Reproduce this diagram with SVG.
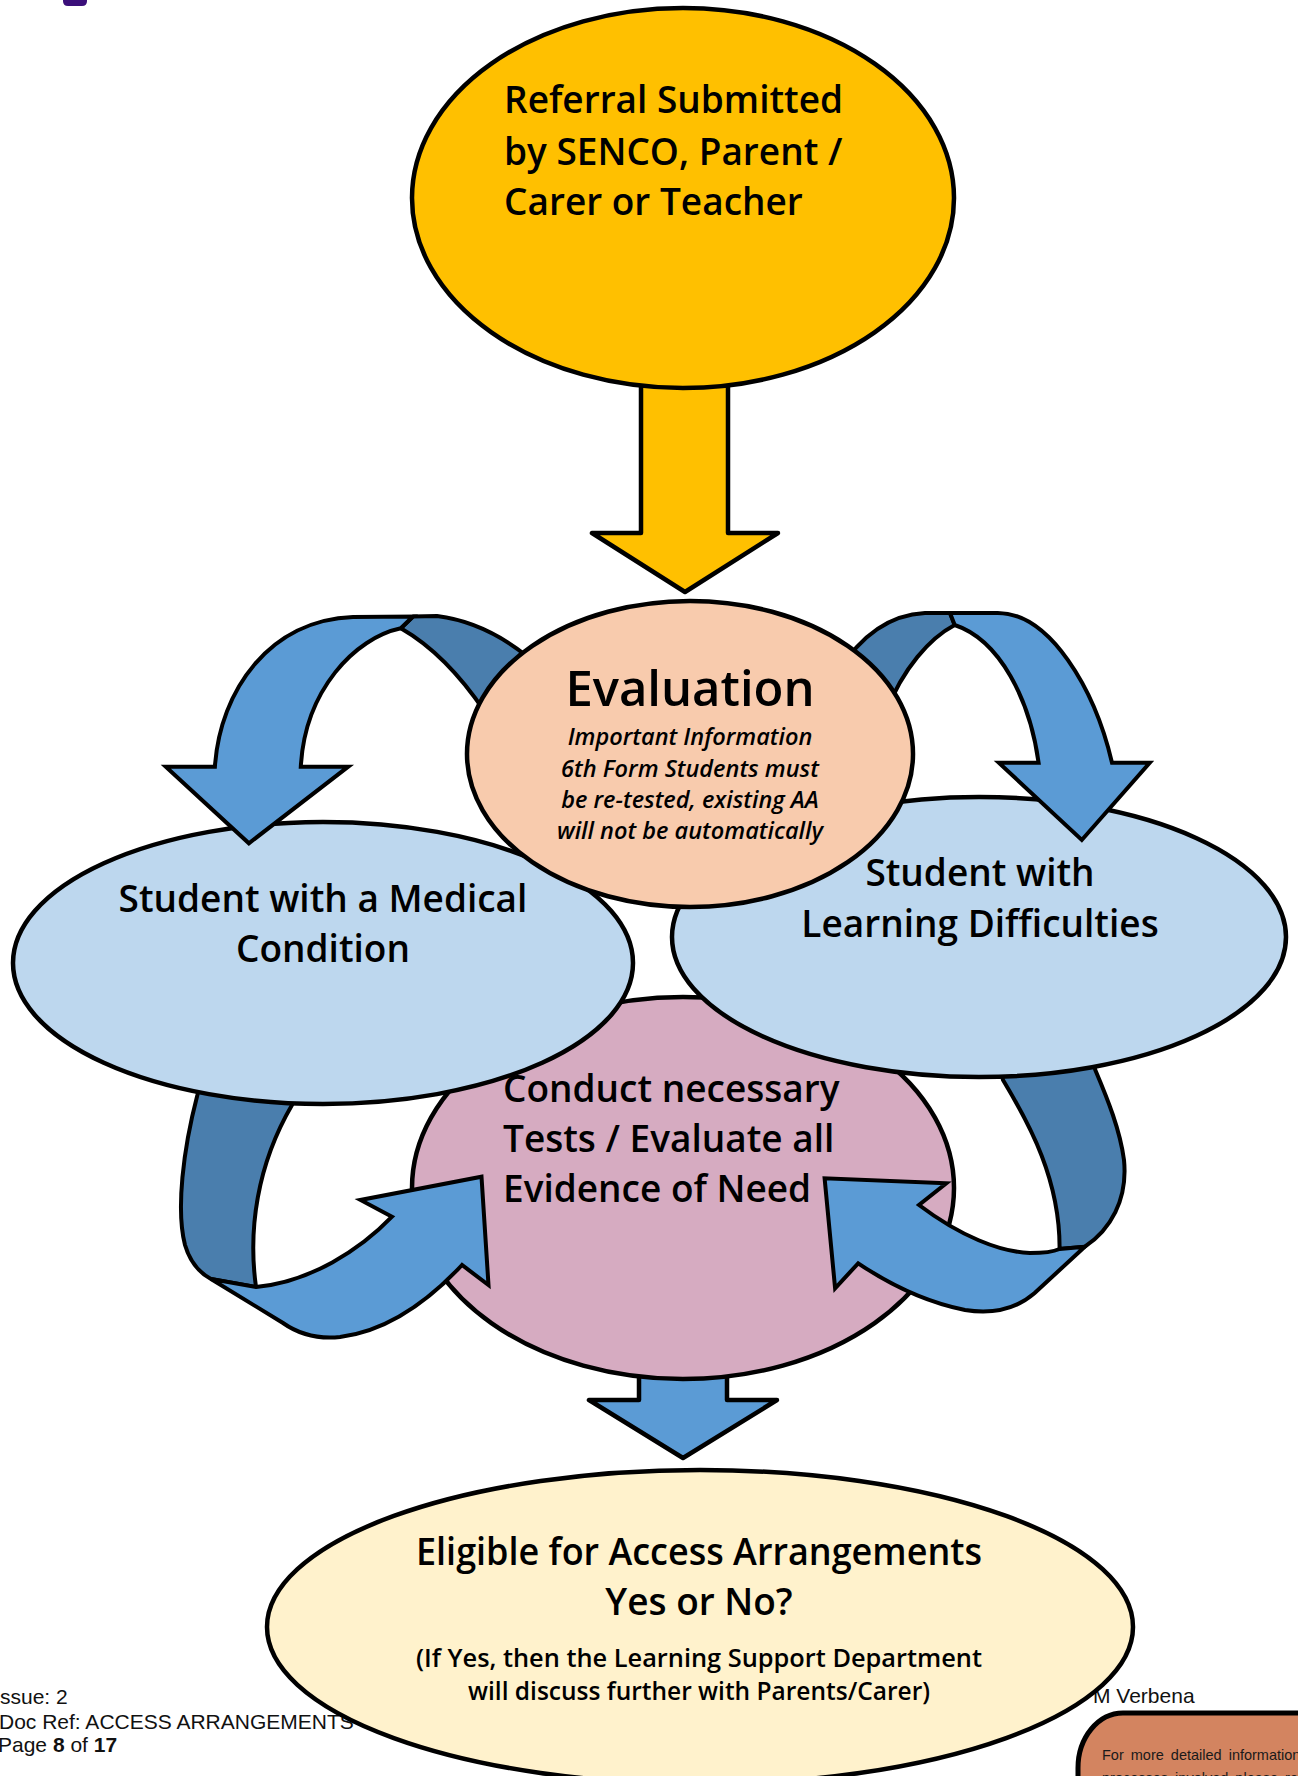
<svg xmlns="http://www.w3.org/2000/svg" width="1298" height="1776" viewBox="0 0 1298 1776">
<style>
.sh{stroke:#000;stroke-width:4.5;stroke-linejoin:round}
.light{fill:#5B9BD5;stroke:#000;stroke-width:4;stroke-linejoin:miter}
.dark{fill:#4A7EAD;stroke:#000;stroke-width:4;stroke-linejoin:round}
.t{font-family:"Open Sans","Noto Sans","DejaVu Sans",sans-serif;fill:#000;font-weight:600}
.big{font-size:37px}
.it{font-size:23.5px;font-style:italic}
.foot{font-family:"Liberation Sans",Arial,sans-serif;font-size:21px;fill:#111}
</style>
<rect width="1298" height="1776" fill="#fff"/>
<g id="logo-fragment"><path d="M63,-2 L87,-2 L87,1 Q87,6 82,6 L68,6 Q63,6 63,1 Z" fill="#3B0F7A"/></g>

<g id="footer">
<text class="foot" x="0" y="1704">ssue: 2</text>
<text class="foot" x="-1" y="1729">Doc Ref: ACCESS ARRANGEMENTS</text>
<text class="foot" x="-2" y="1752">Page <tspan font-weight="bold">8</tspan> of <tspan font-weight="bold">17</tspan></text>
<text class="foot" x="1093" y="1703">M Verbena</text>
</g>

<g id="connectors">
<path id="arrow-referral-evaluation" class="sh" fill="#FFC000" d="M641,385 L728,385 L728,533 L778,533 L685,592 L592,533 L641,533 Z"/>
<path id="arrow-conduct-eligible" class="sh" fill="#5B9BD5" d="M639,1370 L727,1370 L727,1400 L777,1400 L683,1458 L589,1400 L639,1400 Z"/>
</g>

<g id="node-referral">
<ellipse class="sh" cx="683" cy="198" rx="271" ry="190" fill="#FFC000"/>
<text class="t big" x="504" y="113">Referral Submitted</text>
<text class="t big" x="504" y="165">by SENCO, Parent /</text>
<text class="t big" x="504" y="215">Carer or Teacher</text>
</g>

<g id="node-conduct-shape">
<ellipse class="sh" cx="683" cy="1188" rx="271" ry="191" fill="#D6ABC1"/>
</g>

<g id="connectors-lower">
<g id="arrow-medical-conduct">
<path class="dark" d="M205,1060 L197.4,1095 C183,1150 176,1210 185,1245 C190,1262 198,1272 211,1279 L256,1287 C248,1230 257,1165 292,1105 L308,1068 Z"/>
<path class="light" d="M211,1279 L283,1323 C300,1335 320,1339 340,1337 C380,1332 420,1310 462,1265 L488.5,1285 L481.5,1176.7 L360.5,1200 L392,1216.7 C360,1250 310,1282 256,1287 Z"/>
</g>
<g id="arrow-learning-conduct">
<path class="dark" d="M995,1045 L1003,1080 C1030,1125 1060,1180 1059.6,1249 L1084.8,1246.7 C1110,1230 1128,1200 1124,1160 C1120,1130 1108,1100 1095.3,1070 L1088,1040 Z"/>
<path class="light" d="M1084.8,1246.7 L1034.4,1293.3 C1015,1310 990,1314 965,1310 C930,1303 895,1288 858.2,1263.3 L835.1,1288.3 L824.6,1178.3 L946.3,1183.3 L919,1205 C960,1236 1000,1252 1030,1253 C1045,1253 1055,1251 1059.6,1249 Z"/>
</g>
</g>

<g id="node-medical">
<ellipse class="sh" cx="323" cy="963" rx="310" ry="141" fill="#BDD7EE"/>
<text class="t big" x="323" y="912" text-anchor="middle">Student with a Medical</text>
<text class="t big" x="323" y="962" text-anchor="middle">Condition</text>
</g>

<g id="node-learning">
<ellipse class="sh" cx="979" cy="937" rx="307" ry="140" fill="#BDD7EE"/>
<text class="t big" x="980" y="886" text-anchor="middle">Student with</text>
<text class="t big" x="980" y="937" text-anchor="middle">Learning Difficulties</text>
</g>

<g id="connectors-upper">
<g id="arrow-evaluation-medical">
<path class="dark" d="M400.8,628.3 C430,645 458,672 485,712 L545,672 C520,648 485,622 437,616 L413,616.5 Z"/>
<path class="light" d="M214.9,766.7 C220,690 270,620 353,617 L413,616.5 L400.8,628.3 C355,638 305,690 300.8,766.7 L348.2,766.7 L248.9,843.3 L165.8,766.7 Z"/>
</g>
<g id="arrow-evaluation-learning">
<path class="dark" d="M954.7,625 C930,638 903,668 886,712 L838,672 C858,640 885,615 925,613 L950,613 Z"/>
<path class="light" d="M950,613 L996.7,613 C1050,612 1095,690 1112,762.7 L1149.8,762.7 L1081.8,840 L998.8,762.7 L1038.6,762.7 C1030,700 1000,640 954.7,625 Z"/>
</g>
</g>

<g id="node-evaluation">
<ellipse class="sh" cx="690" cy="754" rx="223" ry="153" fill="#F8CBAD"/>
<text class="t" x="690" y="706" text-anchor="middle" font-size="49">Evaluation</text>
<text class="t it" x="690" y="745" text-anchor="middle">Important Information</text>
<text class="t it" x="690" y="777" text-anchor="middle">6th Form Students must</text>
<text class="t it" x="690" y="808" text-anchor="middle">be re-tested, existing AA</text>
<text class="t it" x="690" y="839" text-anchor="middle">will not be automatically</text>
</g>

<g id="node-conduct-text">
<text class="t big" x="503" y="1102">Conduct necessary</text>
<text class="t big" x="503" y="1152">Tests / Evaluate all</text>
<text class="t big" x="503" y="1202">Evidence of Need</text>
</g>

<g id="node-eligible">
<ellipse class="sh" cx="700" cy="1627" rx="433" ry="157" fill="#FFF2CC"/>
<text class="t" x="699" y="1565" text-anchor="middle" font-size="37" textLength="566" lengthAdjust="spacingAndGlyphs">Eligible for Access Arrangements</text>
<text class="t" x="699" y="1615" text-anchor="middle" font-size="37">Yes or No?</text>
<text class="t" x="699" y="1667" text-anchor="middle" font-size="26" textLength="566" lengthAdjust="spacingAndGlyphs">(If Yes, then the Learning Support Department</text>
<text class="t" x="699" y="1700" text-anchor="middle" font-size="26" textLength="462" lengthAdjust="spacingAndGlyphs">will discuss further with Parents/Carer)</text>
</g>

<g id="node-info-box">
<rect x="1078" y="1713" width="280" height="140" rx="45" ry="55" fill="#D38460" stroke="#000" stroke-width="5"/>
<text x="1102" y="1760" font-family="Liberation Sans, Arial, sans-serif" font-size="14.5" word-spacing="3" fill="#1a1a1a">For more detailed information</text>
<text x="1102" y="1783" font-family="Liberation Sans, Arial, sans-serif" font-size="14.5" word-spacing="3" fill="#1a1a1a">processes involved please refer</text>
</g>
</svg>
